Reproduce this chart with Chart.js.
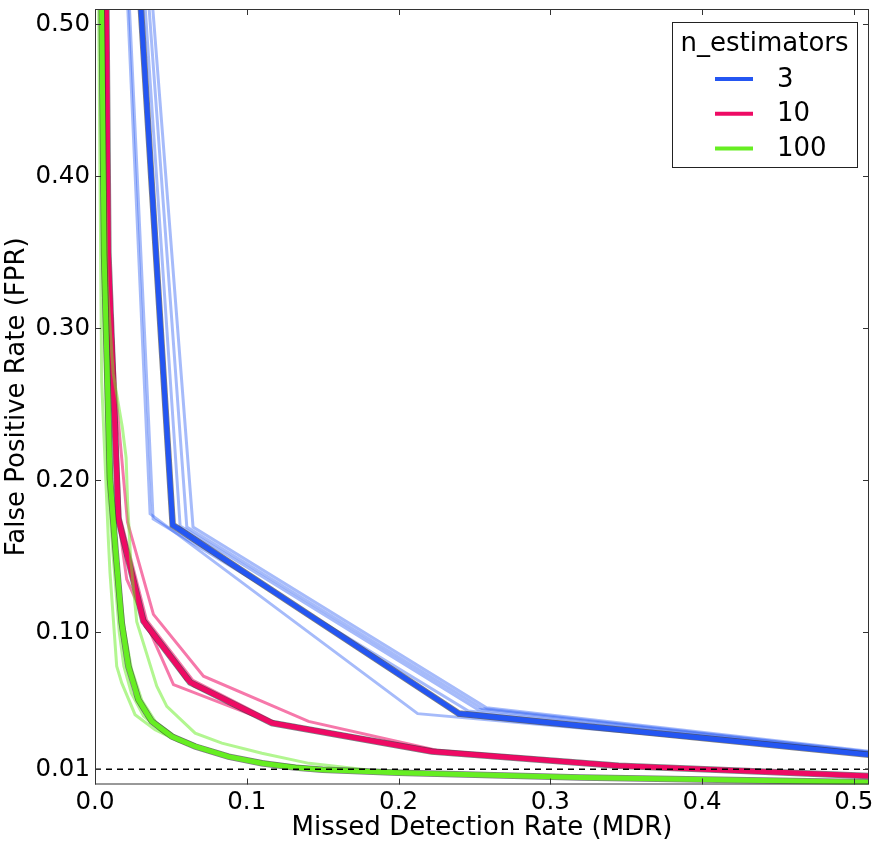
<!DOCTYPE html>
<html>
<head>
<meta charset="utf-8">
<script src="https://cdn.jsdelivr.net/npm/chart.js@4.4.1/dist/chart.umd.min.js"></script>
<style>
html, body { margin: 0; padding: 0; background: #fff; }
#wrap { width: 880px; height: 847px; }
</style>
</head>
<body>
<div id="wrap"><canvas id="roc"></canvas></div>
<script>
var legendTitle = 'n_estimators';
var estimators = ['3', '10', '100'];
var xTicks = [0, 0.1, 0.2, 0.3, 0.4, 0.5];
var yTicks = [0.01, 0.1, 0.2, 0.3, 0.4, 0.5];
var xLimit = 0.51;
var yLimit = 0.51;
var fprTarget = 0.01;

// [MDR, FPR] points

// n_estimators = 3
var blueMean = [[0, 1], [0.0512, 0.1706], [0.2397, 0.0467], [0.53, 0.0175]];
var blueFolds = [
    [[0, 1], [0.0363, 0.178], [0.2126, 0.0466], [0.53, 0.0185]],
    [[0, 1], [0.0383, 0.1746], [0.246, 0.0483], [0.53, 0.018]],
    [[0, 1], [0.0561, 0.170], [0.252, 0.0495], [0.53, 0.019]],
    [[0, 1], [0.0605, 0.1693], [0.255, 0.0500], [0.53, 0.0192]],
    [[0, 1], [0.0646, 0.1693], [0.258, 0.0505], [0.53, 0.0195]]
];

// n_estimators = 10
var redMean = [[0.0035, 1], [0.0088, 0.35], [0.0154, 0.1746], [0.0319, 0.1075], [0.0627, 0.0672],
    [0.1166, 0.0404], [0.222, 0.0217], [0.345, 0.0124], [0.51, 0.0056], [0.56, 0.0035]];
var redFolds = [
    [[0.0035, 1], [0.0088, 0.35], [0.0135, 0.26], [0.0214, 0.1726], [0.0385, 0.1119], [0.0715, 0.0712],
        [0.1407, 0.0415], [0.225, 0.0225], [0.345, 0.0128], [0.51, 0.0058], [0.56, 0.0038]],
    [[0.0035, 1], [0.0088, 0.35], [0.0154, 0.1746], [0.0209, 0.135], [0.0517, 0.0657], [0.1144, 0.0415],
        [0.222, 0.0212], [0.345, 0.012], [0.51, 0.0054], [0.56, 0.0033]],
    [[0.0035, 1], [0.0085, 0.35], [0.0148, 0.178], [0.031, 0.110], [0.060, 0.069], [0.113, 0.0415],
        [0.218, 0.0222], [0.34, 0.0128], [0.51, 0.0059], [0.56, 0.0038]],
    [[0.004, 1], [0.0092, 0.34], [0.016, 0.17], [0.033, 0.104], [0.065, 0.065], [0.120, 0.0395],
        [0.228, 0.0213], [0.35, 0.0121], [0.51, 0.0054], [0.56, 0.0034]],
    [[0.003, 1], [0.009, 0.355], [0.0165, 0.176], [0.034, 0.108], [0.0645, 0.0685], [0.118, 0.041],
        [0.225, 0.022], [0.348, 0.0125], [0.51, 0.0057], [0.56, 0.0036]]
];

// n_estimators = 100
var greenMean = [[0, 1], [0.003, 0.70], [0.0044, 0.512], [0.006, 0.348], [0.0099, 0.201], [0.0134, 0.156],
    [0.0176, 0.1064], [0.022, 0.0778], [0.0286, 0.0558], [0.0374, 0.0415], [0.0506, 0.0316], [0.066, 0.025],
    [0.088, 0.0183], [0.11, 0.014], [0.132, 0.0111], [0.15, 0.0097], [0.2, 0.0078], [0.32, 0.0046],
    [0.51, 0.0015], [0.56, 0.001]];
var greenFolds = [
    [[0, 1], [0.004, 0.55], [0.008, 0.33], [0.012, 0.27], [0.018, 0.235], [0.0205, 0.215], [0.0215, 0.185],
        [0.0235, 0.148], [0.0275, 0.107], [0.0407, 0.0646], [0.0473, 0.0514], [0.066, 0.0338], [0.0836, 0.0272],
        [0.11, 0.0206], [0.141, 0.0139], [0.18, 0.0095], [0.25, 0.0065], [0.35, 0.0042], [0.51, 0.0017],
        [0.56, 0.0012]],
    [[0, 1], [0.0025, 0.5], [0.0044, 0.265], [0.0088, 0.161], [0.0099, 0.139], [0.0143, 0.0778],
        [0.0176, 0.0668], [0.0264, 0.0459], [0.0396, 0.036], [0.055, 0.0285], [0.075, 0.0215], [0.1, 0.016],
        [0.13, 0.0118], [0.17, 0.0092], [0.25, 0.0062], [0.35, 0.004], [0.51, 0.0013], [0.56, 0.0009]],
    [[0, 1], [0.003, 0.6], [0.005, 0.35], [0.0085, 0.2], [0.012, 0.15], [0.016, 0.1], [0.019, 0.078],
        [0.024, 0.06], [0.032, 0.045], [0.045, 0.034], [0.062, 0.026], [0.085, 0.019], [0.11, 0.0142],
        [0.14, 0.0108], [0.2, 0.0078], [0.32, 0.0046], [0.51, 0.0016], [0.56, 0.0011]],
    [[0, 1], [0.0035, 0.6], [0.0065, 0.35], [0.011, 0.2], [0.0145, 0.15], [0.019, 0.104], [0.024, 0.076],
        [0.031, 0.055], [0.04, 0.041], [0.053, 0.0315], [0.069, 0.0248], [0.09, 0.0185], [0.115, 0.014],
        [0.15, 0.0102], [0.22, 0.0074], [0.33, 0.0044], [0.51, 0.0014], [0.56, 0.001]]
];

var font = '"DejaVu Sans", "Liberation Sans", sans-serif';

function toPoints(curve)
{
    return curve.map(function(p) {
        return { x: p[0], y: p[1] };
    });
}

var datasets = [];
var drawOrder = 20;

function addGroup(label, color, faint, mean, folds)
{
    for (var i = 0; i < folds.length; i++) {
        datasets.push({
            data: toPoints(folds[i]),
            borderColor: faint,
            borderWidth: 3,
            order: drawOrder
        });
    }
    drawOrder--;

    // dark rim under the mean curve
    datasets.push({
        data: toPoints(mean),
        borderColor: 'rgba(20,20,30,0.55)',
        borderWidth: 6.5,
        order: drawOrder--
    });

    datasets.push({
        data: toPoints(mean),
        borderColor: color,
        borderWidth: 5,
        legendLabel: label,
        order: drawOrder--
    });
}

addGroup(estimators[0], '#2456f2', 'rgba(42,93,242,0.42)', blueMean, blueFolds);
addGroup(estimators[1], '#ee0a64', 'rgba(238,10,100,0.55)', redMean, redFolds);
addGroup(estimators[2], '#66ee22', 'rgba(102,238,34,0.5)', greenMean, greenFolds);

datasets.push({
    data: [{ x: 0, y: fprTarget }, { x: xLimit, y: fprTarget }],
    borderColor: '#000',
    borderWidth: 1.5,
    borderDash: [6, 5],
    order: 0
});

datasets.forEach(function(d) {
    d.pointRadius = 0;
    d.tension = 0;
    d.fill = false;
    d.clip = 0;
});

var frameAndLegend = {
    id: 'frameAndLegend',
    afterDatasetsDraw: function(chart)
    {
        var ctx = chart.ctx;
        var a = chart.chartArea;
        var sx = chart.scales.x;
        var sy = chart.scales.y;

        ctx.save();
        ctx.strokeStyle = '#333';
        ctx.lineWidth = 1;
        ctx.strokeRect(a.left + 0.5, a.top + 0.5, a.right - a.left - 1, a.bottom - a.top - 1);

        ctx.beginPath();
        xTicks.forEach(function(v) {
            var px = Math.round(sx.getPixelForValue(v)) + 0.5;
            ctx.moveTo(px, a.bottom);
            ctx.lineTo(px, a.bottom - 6);
            ctx.moveTo(px, a.top);
            ctx.lineTo(px, a.top + 6);
        });
        yTicks.forEach(function(v) {
            var py = Math.round(sy.getPixelForValue(v)) + 0.5;
            ctx.moveTo(a.left, py);
            ctx.lineTo(a.left + 6, py);
            ctx.moveTo(a.right, py);
            ctx.lineTo(a.right - 6, py);
        });
        ctx.stroke();

        // legend box, top right inside the axes
        var w = 185, h = 145;
        var left = a.right - 12 - w;
        var top = a.top + 13;
        ctx.fillStyle = '#fff';
        ctx.fillRect(left, top, w, h);
        ctx.strokeStyle = '#222';
        ctx.strokeRect(Math.round(left) + 0.5, Math.round(top) + 0.5, w, h);

        ctx.fillStyle = '#000';
        ctx.font = '26px ' + font;
        ctx.textAlign = 'center';
        ctx.textBaseline = 'middle';
        ctx.fillText(legendTitle, left + w / 2, top + 22);

        var entries = chart.data.datasets.filter(function(d) { return d.legendLabel; });
        ctx.textAlign = 'left';
        entries.forEach(function(d, i) {
            var yy = top + 57 + i * 34.7;
            ctx.strokeStyle = d.borderColor;
            ctx.lineWidth = 4;
            ctx.beginPath();
            ctx.moveTo(left + 43, yy);
            ctx.lineTo(left + 81, yy);
            ctx.stroke();
            ctx.fillStyle = '#000';
            ctx.fillText(d.legendLabel, left + 105, yy + 1);
        });
        ctx.restore();
    }
};

var chart = new Chart(document.getElementById('roc'), {
    type: 'line',
    data: { datasets: datasets },
    plugins: [frameAndLegend],
    options: {
        responsive: true,
        maintainAspectRatio: false,
        animation: false,
        events: [],
        layout: { padding: { top: 9, right: 11, bottom: 0, left: 0 } },
        plugins: {
            legend: { display: false },
            tooltip: { enabled: false }
        },
        scales: {
            x: {
                type: 'linear',
                min: 0,
                max: xLimit,
                grid: { display: false, drawTicks: false },
                border: { display: false },
                afterBuildTicks: function(scale) {
                    scale.ticks = xTicks.map(function(v) { return { value: v }; });
                },
                afterFit: function(scale) {
                    scale.height = 62.5;
                    scale.paddingLeft = 0;
                    scale.paddingRight = 0;
                },
                ticks: {
                    padding: 3,
                    color: '#000',
                    maxRotation: 0,
                    font: { family: font, size: 24.5 },
                    callback: function(v) { return v.toFixed(1); }
                },
                title: {
                    display: true,
                    text: 'Missed Detection Rate (MDR)',
                    color: '#000',
                    padding: { top: 0, bottom: 3 },
                    font: { family: font, size: 26 }
                }
            },
            y: {
                type: 'linear',
                min: 0,
                max: yLimit,
                grid: { display: false, drawTicks: false },
                border: { display: false },
                afterBuildTicks: function(scale) {
                    scale.ticks = yTicks.map(function(v) { return { value: v }; });
                },
                afterFit: function(scale) {
                    scale.width = 95;
                    scale.paddingTop = 0;
                    scale.paddingBottom = 0;
                },
                ticks: {
                    padding: 5,
                    color: '#000',
                    font: { family: font, size: 24.5 },
                    callback: function(v) { return v.toFixed(2); }
                },
                title: {
                    display: true,
                    text: 'False Positive Rate (FPR)',
                    color: '#000',
                    padding: { top: 2, bottom: 0 },
                    font: { family: font, size: 26 }
                }
            }
        }
    }
});
</script>
</body>
</html>
